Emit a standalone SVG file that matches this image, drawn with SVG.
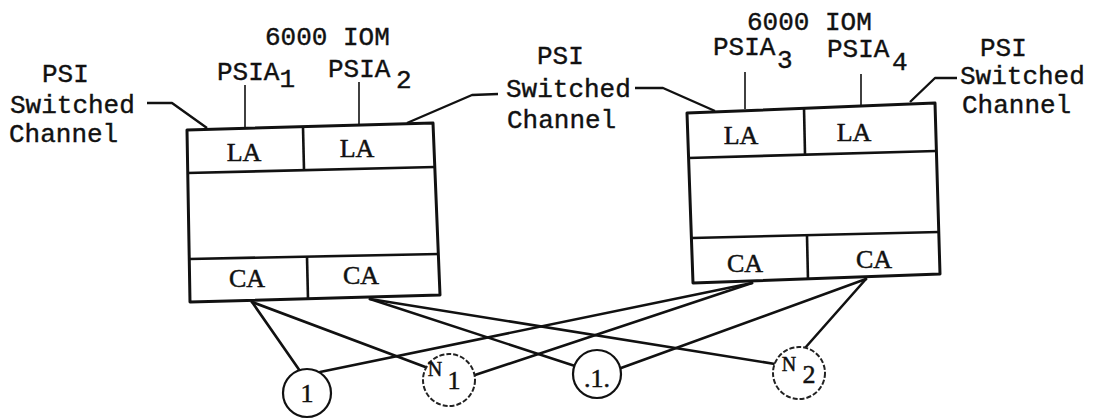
<svg xmlns="http://www.w3.org/2000/svg" width="1104" height="419" viewBox="0 0 1104 419">
<style>
.t{font-family:"Liberation Mono","DejaVu Sans Mono",monospace;font-size:26px;fill:#111;stroke:#111;stroke-width:0.4}
.s{font-family:"Liberation Serif","DejaVu Serif",serif;font-size:26px;fill:#111;stroke:#111;stroke-width:0.5;text-anchor:middle}
.box{fill:#fff;stroke:#111;stroke-width:3;stroke-linejoin:round}
.div{fill:none;stroke:#111;stroke-width:2.6}
.ld{fill:none;stroke:#111;stroke-width:2.4;stroke-linejoin:round}
.pl{fill:none;stroke:#111;stroke-width:1.6}
.cn{fill:none;stroke:#111;stroke-width:2.6;stroke-linecap:round}
.c{fill:#fff;stroke:#111;stroke-width:2.2}
.cd{fill:#fff;stroke:#222;stroke-width:2;stroke-dasharray:5 2}
</style>
<rect width="1104" height="419" fill="#fff"/>

<g id="labels">
  <text class="t" x="42" y="82">PSI</text>
  <text class="t" x="10" y="113">Switched</text>
  <text class="t" x="9" y="142">Channel</text>
  <text class="t" x="265" y="45">6000 IOM</text>
  <text class="t" x="217" y="80">PSIA<tspan y="87">1</tspan></text>
  <text class="t" x="328" y="77">PSIA<tspan x="396" y="88">2</tspan></text>
  <text class="t" x="537" y="64">PSI</text>
  <text class="t" x="506" y="97">Switched</text>
  <text class="t" x="507" y="128">Channel</text>
  <text class="t" x="747" y="30">6000 IOM</text>
  <text class="t" x="713" y="55">PSIA<tspan x="777" y="68">3</tspan></text>
  <text class="t" x="827" y="57">PSIA<tspan x="892" y="70">4</tspan></text>
  <text class="t" x="980" y="56">PSI</text>
  <text class="t" x="960" y="84">Switched</text>
  <text class="t" x="962" y="113">Channel</text>
</g>

<g id="leaders">
  <polyline class="ld" points="147,103 172,103 207,128"/>
  <polyline class="ld" points="407,123 472,95 498,94"/>
  <polyline class="ld" points="635,88 663,88 715,111"/>
  <polyline class="ld" points="910,102 935,78 957,78"/>
  <line class="pl" x1="245" y1="85" x2="245" y2="127"/>
  <line class="pl" x1="359" y1="82" x2="359" y2="124"/>
  <line class="pl" x1="745" y1="72" x2="745" y2="109"/>
  <line class="pl" x1="861" y1="74" x2="861" y2="105"/>
</g>

<g id="iom1">
  <polygon class="box" points="187,130 433,123 440,295 190,302"/>
  <line class="div" x1="187" y1="173" x2="435" y2="167"/>
  <line class="div" x1="189" y1="259" x2="439" y2="254"/>
  <line class="div" x1="303" y1="127" x2="304" y2="170"/>
  <line class="div" x1="307" y1="257" x2="308" y2="299"/>
  <text class="s" x="244" y="161">LA</text>
  <text class="s" x="357" y="157">LA</text>
  <text class="s" x="247" y="287">CA</text>
  <text class="s" x="361" y="284">CA</text>
</g>

<g id="iom2">
  <polygon class="box" points="687,113 935,103 940,274 693,283"/>
  <line class="div" x1="688" y1="158" x2="936" y2="151"/>
  <line class="div" x1="692" y1="238" x2="939" y2="232"/>
  <line class="div" x1="804" y1="108" x2="805" y2="154"/>
  <line class="div" x1="807" y1="236" x2="808" y2="280"/>
  <text class="s" x="741" y="144">LA</text>
  <text class="s" x="854" y="141">LA</text>
  <text class="s" x="745" y="272">CA</text>
  <text class="s" x="874" y="268">CA</text>
</g>

<g id="connectors">
  <line class="cn" x1="252" y1="302" x2="300" y2="371"/>
  <line class="cn" x1="252" y1="302" x2="428" y2="368"/>
  <line class="cn" x1="370" y1="299" x2="575" y2="366"/>
  <line class="cn" x1="370" y1="299" x2="775" y2="364"/>
  <line class="cn" x1="752" y1="283" x2="320" y2="372"/>
  <line class="cn" x1="752" y1="283" x2="475" y2="375"/>
  <line class="cn" x1="866" y1="279" x2="621" y2="368"/>
  <line class="cn" x1="866" y1="279" x2="805" y2="348"/>
</g>

<g id="dev1">
  <circle class="c" cx="307" cy="393" r="24"/>
  <text class="s" x="307" y="402">1</text>
</g>
<g id="devN1">
  <circle class="cd" cx="449" cy="380" r="26"/>
  <text class="s" x="435" y="376" style="font-size:20px">N</text>
  <text class="s" x="454" y="389">1</text>
</g>
<g id="dev1b">
  <circle class="c" cx="597" cy="374" r="24"/>
  <text class="s" x="597" y="387">.1.</text>
</g>
<g id="devN2">
  <circle class="cd" cx="799" cy="373" r="26"/>
  <text class="s" x="789" y="371" style="font-size:20px">N</text>
  <text class="s" x="809" y="383">2</text>
</g>
</svg>
